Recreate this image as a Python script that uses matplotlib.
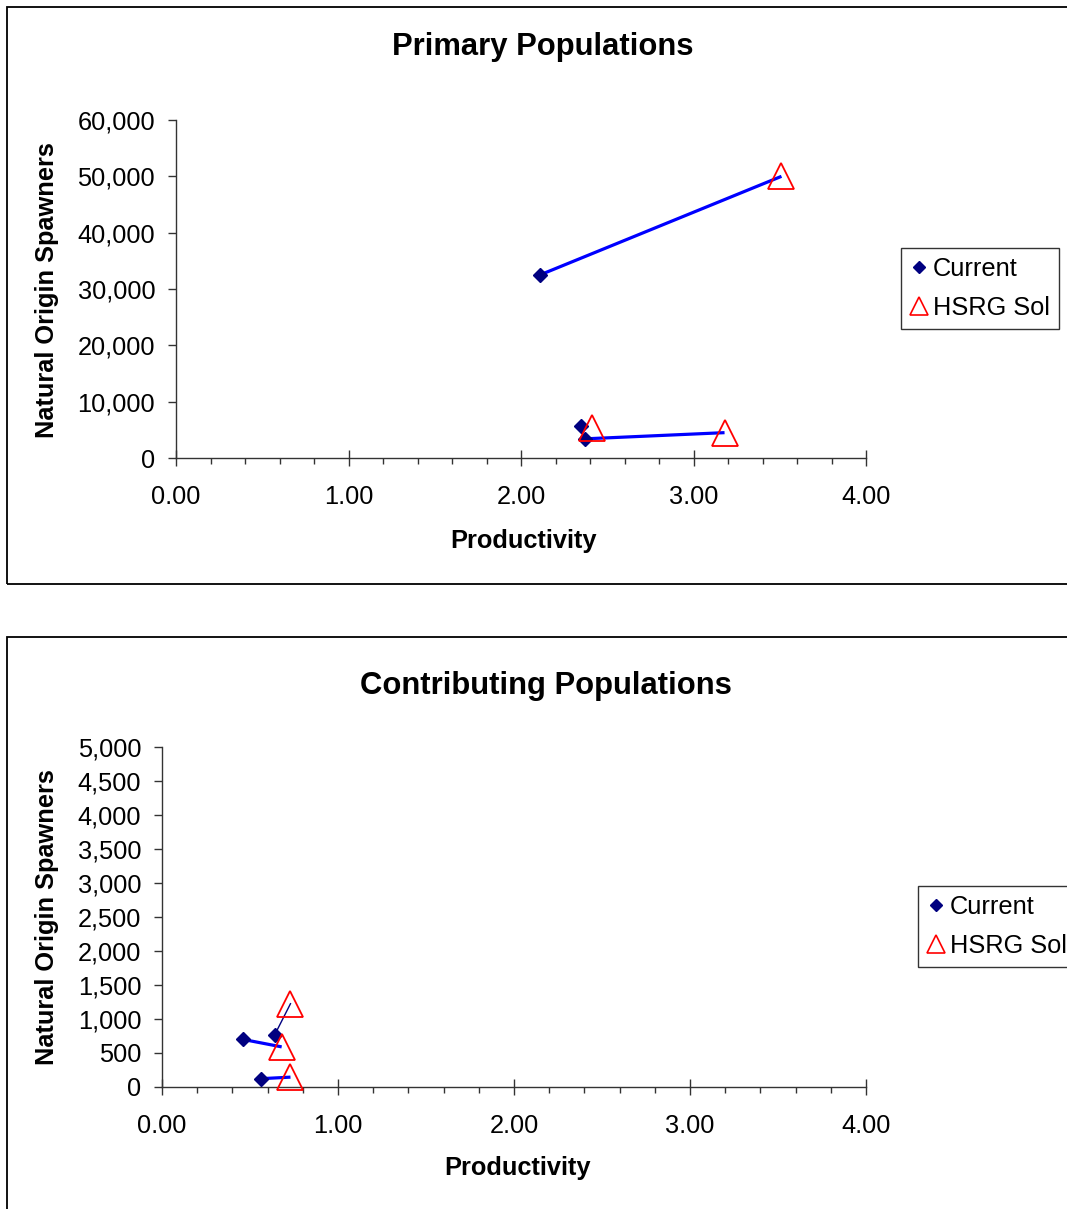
import matplotlib
matplotlib.use("Agg")
import matplotlib.pyplot as plt
from matplotlib.lines import Line2D
from matplotlib.patches import Rectangle
from matplotlib.ticker import MultipleLocator

plt.rcParams['font.family'] = ['Liberation Sans', 'DejaVu Sans']

# ---------------- data ----------------
primary_title = "Primary Populations"
primary_current_x = [2.11, 2.35, 2.37]
primary_current_y = [32500, 5600, 3400]
primary_hsrg_x = [3.51, 2.41, 3.18]
primary_hsrg_y = [50000, 5400, 4500]
primary_links_thick = [(0, 0), (2, 2)]   # (current index, hsrg index)
primary_links_thin = []
primary_yticks = [0, 10000, 20000, 30000, 40000, 50000, 60000]
primary_ytick_labels = ["0", "10,000", "20,000", "30,000", "40,000", "50,000", "60,000"]

contrib_title = "Contributing Populations"
contrib_current_x = [0.46, 0.64, 0.56]
contrib_current_y = [700, 765, 122]
contrib_hsrg_x = [0.73, 0.68, 0.73]
contrib_hsrg_y = [1225, 590, 145]
contrib_links_thick = [(0, 1), (2, 2)]
contrib_links_thin = [(1, 0)]
contrib_yticks = [0, 500, 1000, 1500, 2000, 2500, 3000, 3500, 4000, 4500, 5000]
contrib_ytick_labels = ["0", "500", "1,000", "1,500", "2,000", "2,500", "3,000",
                        "3,500", "4,000", "4,500", "5,000"]

xticks = [0.0, 1.0, 2.0, 3.0, 4.0]
xtick_labels = ["0.00", "1.00", "2.00", "3.00", "4.00"]
legend_labels = ["Current", "HSRG Sol"]
xlabel = "Productivity"
ylabel = "Natural Origin Spawners"

W, H = 1067, 1209
fig = plt.figure(figsize=(W / 100, H / 100), dpi=100)


def fx(px):
    return px / W


def fy(py):
    return 1 - py / H


def panel(frame_top, frame_bottom, ax_box, title_xy, xlabel_xy, ylabel_xy, legend_xy,
          title, cx, cy, hx, hy, thick, thin, yticks, ylabels):
    # panel frame
    fig.patches.append(Rectangle((fx(7), fy(frame_bottom)), fx(1200), fy(frame_top) - fy(frame_bottom),
                                 transform=fig.transFigure, fill=False, edgecolor='black',
                                 linewidth=1.3, zorder=0))
    l, t, r, b = ax_box
    ax = fig.add_axes([fx(l), fy(b), fx(r) - fx(l), fy(t) - fy(b)])
    ax.set_facecolor('none')
    for ci, hi in thick:
        ax.plot([cx[ci], hx[hi]], [cy[ci], hy[hi]], color='#0000FF', lw=2.3,
                solid_capstyle='butt', zorder=2)
    for ci, hi in thin:
        ax.plot([cx[ci], hx[hi]], [cy[ci], hy[hi]], color='#000080', lw=1.0, zorder=2)
    ax.plot(cx, cy, linestyle='none', marker='D', markersize=7.3, color='#000080',
            markeredgecolor='#000080', zorder=3, clip_on=False)
    ax.plot(hx, hy, linestyle='none', marker='^', markersize=18.5, markerfacecolor='none',
            markeredgecolor='#FF0000', markeredgewidth=1.3, zorder=4, clip_on=False)
    ax.set_xlim(xticks[0], xticks[-1])
    ax.set_ylim(yticks[0], yticks[-1])
    for s in ['top', 'right']:
        ax.spines[s].set_visible(False)
    for s in ['left', 'bottom']:
        ax.spines[s].set_linewidth(1.0)
        ax.spines[s].set_color('#333333')
    ax.set_xticks(xticks)
    ax.set_xticklabels(xtick_labels)
    ax.xaxis.set_minor_locator(MultipleLocator(0.2))
    ax.set_yticks(yticks)
    ax.set_yticklabels(ylabels)
    ax.tick_params(axis='x', which='major', direction='inout', length=11, width=1.0,
                   labelsize=18.3, pad=14, color='#333333')
    ax.tick_params(axis='x', which='minor', direction='out', length=4, width=1.0, color='#333333')
    ax.tick_params(axis='y', which='major', direction='out', length=6, width=1.0,
                   labelsize=18.3, pad=9, color='#333333')
    fig.text(fx(title_xy[0]), fy(title_xy[1]), title, fontsize=22.3, fontweight='bold',
             ha='center', va='center')
    fig.text(fx(xlabel_xy[0]), fy(xlabel_xy[1]), xlabel, fontsize=18.3, fontweight='bold',
             ha='center', va='center')
    fig.text(fx(ylabel_xy[0]), fy(ylabel_xy[1]), ylabel, fontsize=18.3, fontweight='bold',
             ha='center', va='center', rotation=90)
    handles = [Line2D([], [], linestyle='none', marker='D', markersize=6.5, color='#000080'),
               Line2D([], [], linestyle='none', marker='^', markersize=13, markerfacecolor='none',
                      markeredgecolor='#FF0000', markeredgewidth=1.2)]
    leg = fig.legend(handles, legend_labels, loc='upper left',
                     bbox_to_anchor=(fx(legend_xy[0]), fy(legend_xy[1])),
                     fontsize=18.3, frameon=True, fancybox=False, shadow=False,
                     borderpad=0.35, labelspacing=0.6, handlelength=0.7, handletextpad=0.2,
                     borderaxespad=0)
    leg.get_frame().set_edgecolor('black')
    leg.get_frame().set_linewidth(1.0)
    return ax


panel(7, 584, (176, 120, 866, 458), (543, 47), (523, 541), (47, 290), (901, 248),
      primary_title, primary_current_x, primary_current_y, primary_hsrg_x, primary_hsrg_y,
      primary_links_thick, primary_links_thin, primary_yticks, primary_ytick_labels)

panel(637, 1400, (162, 747, 866, 1087), (546, 686), (517, 1168), (47, 917), (918, 886),
      contrib_title, contrib_current_x, contrib_current_y, contrib_hsrg_x, contrib_hsrg_y,
      contrib_links_thick, contrib_links_thin, contrib_yticks, contrib_ytick_labels)

fig.savefig("out.png", dpi=100)
